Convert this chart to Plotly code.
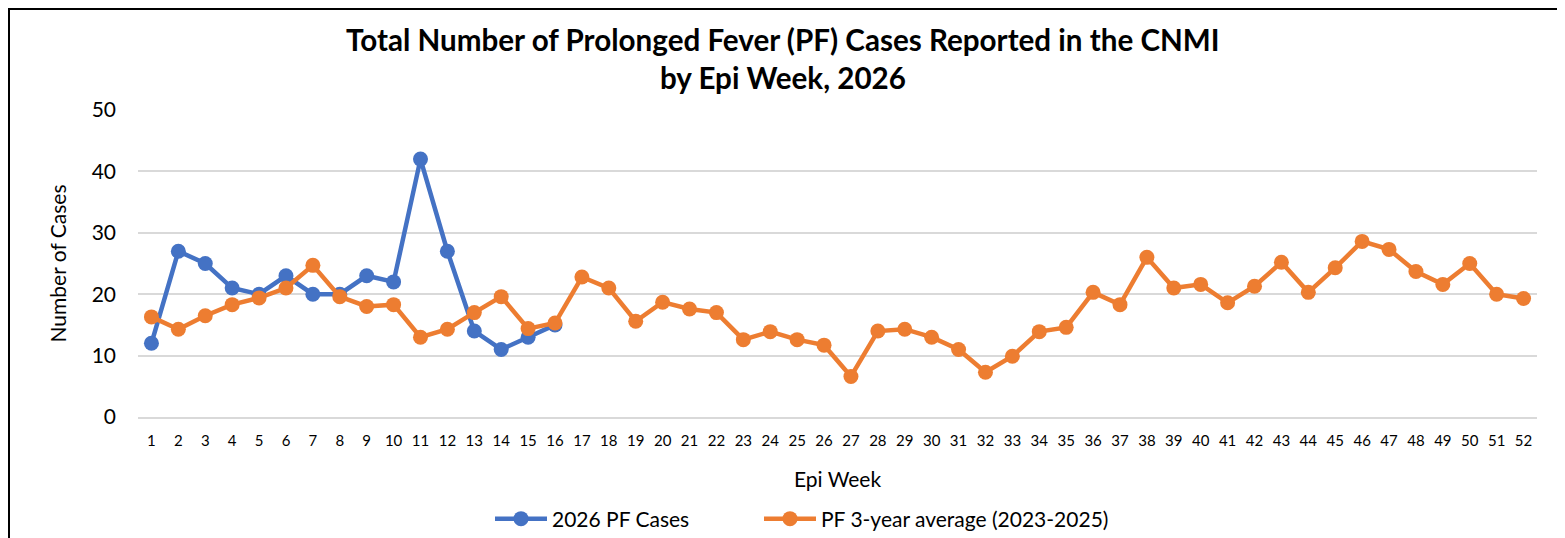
import plotly.graph_objects as go

weeks = list(range(1, 53))
week_labels = [str(w) for w in weeks]

cases_2026 = [12, 27, 25, 21, 20, 23, 20, 20, 23, 22, 42, 27, 14, 11, 13, 15]

avg_3yr = [16.3, 14.3, 16.5, 18.3, 19.4, 21.0, 24.7, 19.6, 18.0, 18.3,
           13.0, 14.3, 17.0, 19.6, 14.4, 15.3, 22.8, 21.0, 15.6, 18.7,
           17.6, 17.0, 12.6, 13.9, 12.6, 11.7, 6.6, 14.0, 14.3, 13.0,
           11.0, 7.3, 9.9, 13.9, 14.6, 20.3, 18.3, 26.0, 21.0, 21.6,
           18.6, 21.3, 25.2, 20.3, 24.3, 28.6, 27.3, 23.7, 21.6, 25.0,
           20.0, 19.3]

y_ticks = [0, 10, 20, 30, 40, 50]

BLUE = "#4472C4"
ORANGE = "#ED7D31"
GRID = "#D9D9D9"
FONT = "Lato"

fig = go.Figure()
fig.add_trace(go.Scatter(
    x=weeks[:len(cases_2026)], y=cases_2026, name="2026 PF Cases",
    mode="lines+markers",
    line=dict(color=BLUE, width=4.5),
    marker=dict(color=BLUE, size=15),
    legend="legend",
))
fig.add_trace(go.Scatter(
    x=weeks, y=avg_3yr, name="PF 3-year average (2023-2025)",
    mode="lines+markers",
    line=dict(color=ORANGE, width=4.5),
    marker=dict(color=ORANGE, size=15),
    legend="legend2",
))

# the page body adds an 8px margin, so the figure is drawn 8px in from the window
OFF = 8
W, H = 1565 - OFF, 538 - OFF
L, T = 138 - OFF, 110 - OFF
R = W - (1537 - OFF)
B = H - (417 - OFF)
pw = W - L - R
ph = H - T - B

def px_x(px):
    return (px - OFF - L) / pw

def px_y(py):
    return (H - B - (py - OFF)) / ph

fig.add_annotation(text="<b>Total Number of Prolonged Fever (PF) Cases Reported in the CNMI</b>",
                   xref="paper", yref="paper", x=px_x(783), y=px_y(40),
                   xanchor="center", yanchor="middle", showarrow=False,
                   font=dict(family=FONT, size=29.6, color="black"))
fig.add_annotation(text="<b>by Epi Week, 2026</b>",
                   xref="paper", yref="paper", x=px_x(783), y=px_y(78),
                   xanchor="center", yanchor="middle", showarrow=False,
                   font=dict(family=FONT, size=29.6, color="black"))

fig.add_shape(type="rect", xref="paper", yref="paper",
              x0=px_x(9), x1=px_x(1620), y0=px_y(9), y1=px_y(600),
              line=dict(color="black", width=2), fillcolor="rgba(0,0,0,0)",
              layer="above")

legend_common = dict(orientation="h", yanchor="middle", xanchor="left",
                     font=dict(family=FONT, size=21, color="black"),
                     itemwidth=52, bgcolor="rgba(0,0,0,0)")

fig.update_layout(
    width=W, height=H,
    margin=dict(l=L, r=R, t=T, b=B, autoexpand=False),
    paper_bgcolor="white", plot_bgcolor="white",
    font=dict(family=FONT, color="black"),
    showlegend=True,
    legend=dict(x=px_x(490), y=px_y(519), **legend_common),
    legend2=dict(x=px_x(759), y=px_y(519), **legend_common),
    xaxis=dict(
        range=[0.5, 52.5], tickmode="array", tickvals=weeks, ticktext=week_labels,
        showgrid=False, zeroline=False, showline=True, linecolor=GRID, linewidth=1.5,
        tickfont=dict(family=FONT, size=15, color="black"),
        ticklabelstandoff=9, automargin=False,
        title=dict(text="Epi Week", font=dict(family=FONT, size=21, color="black"),
                   standoff=25),
    ),
    yaxis=dict(
        range=[0, 50], tickmode="array", tickvals=y_ticks,
        showgrid=True, gridcolor=GRID, gridwidth=1.5, zeroline=False,
        tickfont=dict(family=FONT, size=21, color="black"),
        ticklabelstandoff=21, automargin=False,
        title=dict(text="Number of Cases", font=dict(family=FONT, size=21, color="black"),
                   standoff=19),
    ),
)

fig.write_html("out.html")
